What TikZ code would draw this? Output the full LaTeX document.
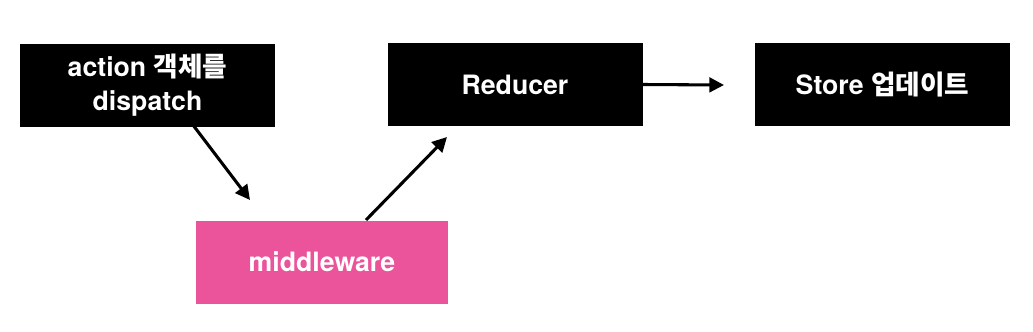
\documentclass[tikz,border=0pt]{standalone}
\usepackage{fontspec}
\setmainfont{TeX Gyre Heros}
\newfontfamily\kr{Noto Sans CJK KR}
\usetikzlibrary{arrows.meta}
\definecolor{pinkbox}{HTML}{EB539B}
\tikzset{
  box/.style={fill=black, text=white, minimum width=255*0.75pt, minimum height=83*0.75pt, inner sep=0pt, align=center, font=\fontsize{20}{25.5}\selectfont\bfseries},
  pbox/.style={box, fill=pinkbox},
  conn/.style={line width=2.3pt, -{Triangle[length=11pt,width=11pt]}, shorten >=0pt}
}
\begin{document}
\begin{tikzpicture}[x=0.75pt,y=-0.75pt]
\useasboundingbox (0,0) rectangle (1033,332);
\node[box] (act) at (147.5,85.5) {action {\kr\bfseries 객체를}\\dispatch};
\node[box] (red) at (515,84.5) {Reducer};
\node[box] (sto) at (882.5,84.5) {Store {\kr\bfseries 업데이트}};
\node[pbox, minimum width=252*0.75pt] (mid) at (322,262) {middleware};
\coordinate (a1s) at (193,125);
\coordinate (a1e) at (250,200);
\coordinate (a2s) at (366,220);
\coordinate (a2e) at (447,137);
\coordinate (a3e) at (724,85);
\draw[conn] (a1s) -- (a1e);
\draw[conn] (a2s) -- (a2e);
\draw[conn] (red.east) -- (a3e);
\end{tikzpicture}
\end{document}
